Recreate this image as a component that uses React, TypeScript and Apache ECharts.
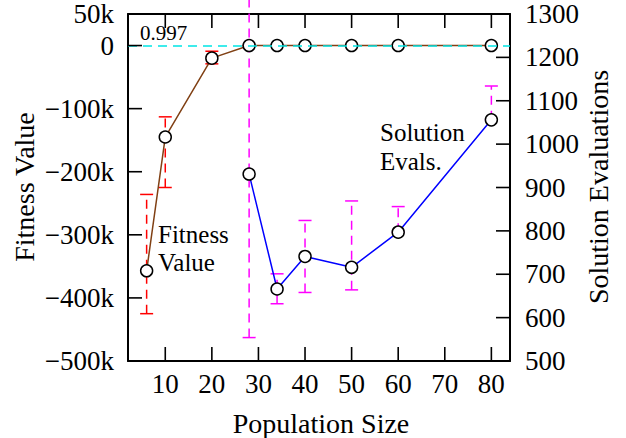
import React, { useEffect, useRef } from "react";
import * as echarts from "echarts";

const popSizes = [6, 10, 20, 28, 34, 40, 50, 60, 80];
const fitness = [-357000, -145000, -20000, 0, 0, 0, 0, 0, 0];
const fitnessLow = [-425000, -225000, -29000, 0, 0, 0, 0, 0, 0];
const fitnessHigh = [-236000, -113000, -9000, 0, 0, 0, 0, 0, 0];

const evalSizes = [28, 34, 40, 50, 60, 80];
const evals = [931, 666, 741, 716, 797, 1056];
const evalLow = [554, 632, 658, 664, 797, 1056];
const evalHigh = [1340, 701, 824, 869, 856, 1134];

const xTicks = [10, 20, 30, 40, 50, 60, 70, 80];
const yLeftTicks = [-500000, -400000, -300000, -200000, -100000, 0, 50000];
const yRightTicks = [500, 600, 700, 800, 900, 1000, 1100, 1200, 1300];

const FONT = "'Liberation Serif', 'Times New Roman', 'DejaVu Serif', serif";
const TICK_LEN = 14;

function fmtK(v: number): string {
  if (v === 0) return "0";
  const k = Math.round(v / 1000);
  return (k < 0 ? "\u2212" + Math.abs(k) : String(k)) + "k";
}

function errRender(color: string) {
  return (params: any, api: any) => {
    const x = api.value(0);
    const lo = api.value(1);
    const hi = api.value(2);
    const pLo = api.coord([x, lo]);
    const pHi = api.coord([x, hi]);
    const w = 6.5;
    return {
      type: "group",
      children: [
        {
          type: "line",
          shape: { x1: pLo[0], y1: pLo[1], x2: pHi[0], y2: pHi[1] },
          style: { stroke: color, lineWidth: 1.5, lineDash: [9, 6] },
        },
        {
          type: "line",
          shape: { x1: pLo[0] - w, y1: pLo[1], x2: pLo[0] + w, y2: pLo[1] },
          style: { stroke: color, lineWidth: 1.5 },
        },
        {
          type: "line",
          shape: { x1: pHi[0] - w, y1: pHi[1], x2: pHi[0] + w, y2: pHi[1] },
          style: { stroke: color, lineWidth: 1.5 },
        },
      ],
    };
  };
}

const tickStroke = () => ({ stroke: "#000", lineWidth: 1.6 });

function xTickRender(params: any, api: any) {
  const cs = params.coordSys;
  const px = api.coord([api.value(0), api.value(1)])[0];
  const bottom = cs.y + cs.height;
  return {
    type: "group",
    children: [
      { type: "line", shape: { x1: px, y1: bottom, x2: px, y2: bottom - TICK_LEN }, style: tickStroke() },
      { type: "line", shape: { x1: px, y1: cs.y, x2: px, y2: cs.y + TICK_LEN }, style: tickStroke() },
    ],
  };
}

function yLeftTickRender(params: any, api: any) {
  const cs = params.coordSys;
  const py = api.coord([api.value(0), api.value(1)])[1];
  return { type: "line", shape: { x1: cs.x, y1: py, x2: cs.x + TICK_LEN, y2: py }, style: tickStroke() };
}

function yRightTickRender(params: any, api: any) {
  const cs = params.coordSys;
  const py = api.coord([api.value(0), api.value(1)])[1];
  const right = cs.x + cs.width;
  return { type: "line", shape: { x1: right, y1: py, x2: right - TICK_LEN, y2: py }, style: tickStroke() };
}

function mkLine() {
  return { show: true, onZero: false, lineStyle: { color: "#000", width: 2 } };
}
function mkLabel(extra: any) {
  return { color: "#000", fontFamily: FONT, fontSize: 27, ...extra };
}

export default function App() {
  const ref = useRef<HTMLDivElement>(null);
  useEffect(() => {
    if (!ref.current) return;
    const chart = echarts.init(ref.current, null, { renderer: "svg" });
    const txt = (text: string, x: number, y: number, size: number, align: string, rot = 0) => ({
      type: "text",
      x,
      y,
      rotation: rot,
      style: { text, fontFamily: FONT, fontSize: size, fill: "#000", align, verticalAlign: "middle" },
    });
    chart.setOption({
      animation: false,
      backgroundColor: "#fff",
      textStyle: { fontFamily: FONT },
      grid: { left: 128, right: 116, top: 14, bottom: 77, containLabel: false },
      xAxis: [
        {
          type: "value",
          position: "bottom",
          min: 2,
          max: 84,
          axisLine: mkLine(),
          axisTick: { show: false },
          axisLabel: mkLabel({ margin: 9, customValues: xTicks.slice() }),
          splitLine: { show: false },
        },
        {
          type: "value",
          position: "top",
          min: 2,
          max: 84,
          axisLine: mkLine(),
          axisTick: { show: false },
          axisLabel: { show: false },
          splitLine: { show: false },
        },
      ],
      yAxis: [
        {
          type: "value",
          position: "left",
          min: -500000,
          max: 50000,
          axisLine: mkLine(),
          axisTick: { show: false },
          axisLabel: mkLabel({ margin: 14, customValues: yLeftTicks.slice(), formatter: (v: number) => fmtK(v) }),
          splitLine: { show: false },
        },
        {
          type: "value",
          position: "right",
          min: 500,
          max: 1300,
          interval: 100,
          axisLine: mkLine(),
          axisTick: { show: false },
          axisLabel: mkLabel({ margin: 15, formatter: (v: number) => String(v) }),
          splitLine: { show: false },
        },
      ],
      series: [
        {
          type: "custom",
          name: "xTicks",
          xAxisIndex: 0,
          yAxisIndex: 0,
          z: 5,
          silent: true,
          clip: false,
          renderItem: xTickRender,
          encode: { x: 0, y: 1 },
          data: xTicks.map((v) => [v, 0]),
        },
        {
          type: "custom",
          name: "yLeftTicks",
          xAxisIndex: 0,
          yAxisIndex: 0,
          z: 5,
          silent: true,
          clip: false,
          renderItem: yLeftTickRender,
          encode: { x: 0, y: 1 },
          data: yLeftTicks.map((v) => [10, v]),
        },
        {
          type: "custom",
          name: "yRightTicks",
          xAxisIndex: 0,
          yAxisIndex: 1,
          z: 5,
          silent: true,
          clip: false,
          renderItem: yRightTickRender,
          encode: { x: 0, y: 1 },
          data: yRightTicks.map((v) => [10, v]),
        },
        {
          type: "custom",
          name: "fitnessErr",
          xAxisIndex: 0,
          yAxisIndex: 0,
          z: 2,
          clip: false,
          renderItem: errRender("#ff0000"),
          encode: { x: 0, y: [1, 2] },
          data: popSizes.map((x, i) => [x, fitnessLow[i], fitnessHigh[i]]),
          markLine: {
            silent: true,
            symbol: "none",
            label: { show: false },
            lineStyle: { color: "#00e5e5", width: 1.5, type: [9, 6] },
            data: [{ yAxis: 0 }],
          },
        },
        {
          type: "custom",
          name: "evalErr",
          xAxisIndex: 0,
          yAxisIndex: 1,
          z: 2,
          clip: false,
          renderItem: errRender("#ff00ff"),
          encode: { x: 0, y: [1, 2] },
          data: evalSizes.map((x, i) => [x, evalLow[i], evalHigh[i]]),
        },
        {
          type: "line",
          name: "Fitness Value",
          xAxisIndex: 0,
          yAxisIndex: 0,
          z: 4,
          data: popSizes.map((x, i) => [x, fitness[i]]),
          symbol: "circle",
          symbolSize: 12,
          lineStyle: { color: "#804014", width: 1.5 },
          itemStyle: { color: "#fff", borderColor: "#000", borderWidth: 1.5 },
        },
        {
          type: "line",
          name: "Solution Evals.",
          xAxisIndex: 0,
          yAxisIndex: 1,
          z: 4,
          data: evalSizes.map((x, i) => [x, evals[i]]),
          symbol: "circle",
          symbolSize: 12,
          lineStyle: { color: "#0000ff", width: 1.5 },
          itemStyle: { color: "#fff", borderColor: "#000", borderWidth: 1.5 },
        },
      ],
      graphic: [
        txt("Fitness Value", 24, 187, 28, "center", Math.PI / 2),
        txt("Solution Evaluations", 598, 187, 28, "center", Math.PI / 2),
        txt("Population Size", 321, 423, 28, "center"),
        txt("Fitness", 158, 234, 25, "left"),
        txt("Value", 158, 262.5, 25, "left"),
        txt("Solution", 380, 132.5, 25, "left"),
        txt("Evals.", 380, 161.3, 25, "left"),
        txt("0.997", 140, 32.7, 21, "left"),
      ],
    });
    return () => chart.dispose();
  }, []);
  return <div ref={ref} style={{ width: 626, height: 438, position: "fixed", left: 0, top: 0 }} />;
}
